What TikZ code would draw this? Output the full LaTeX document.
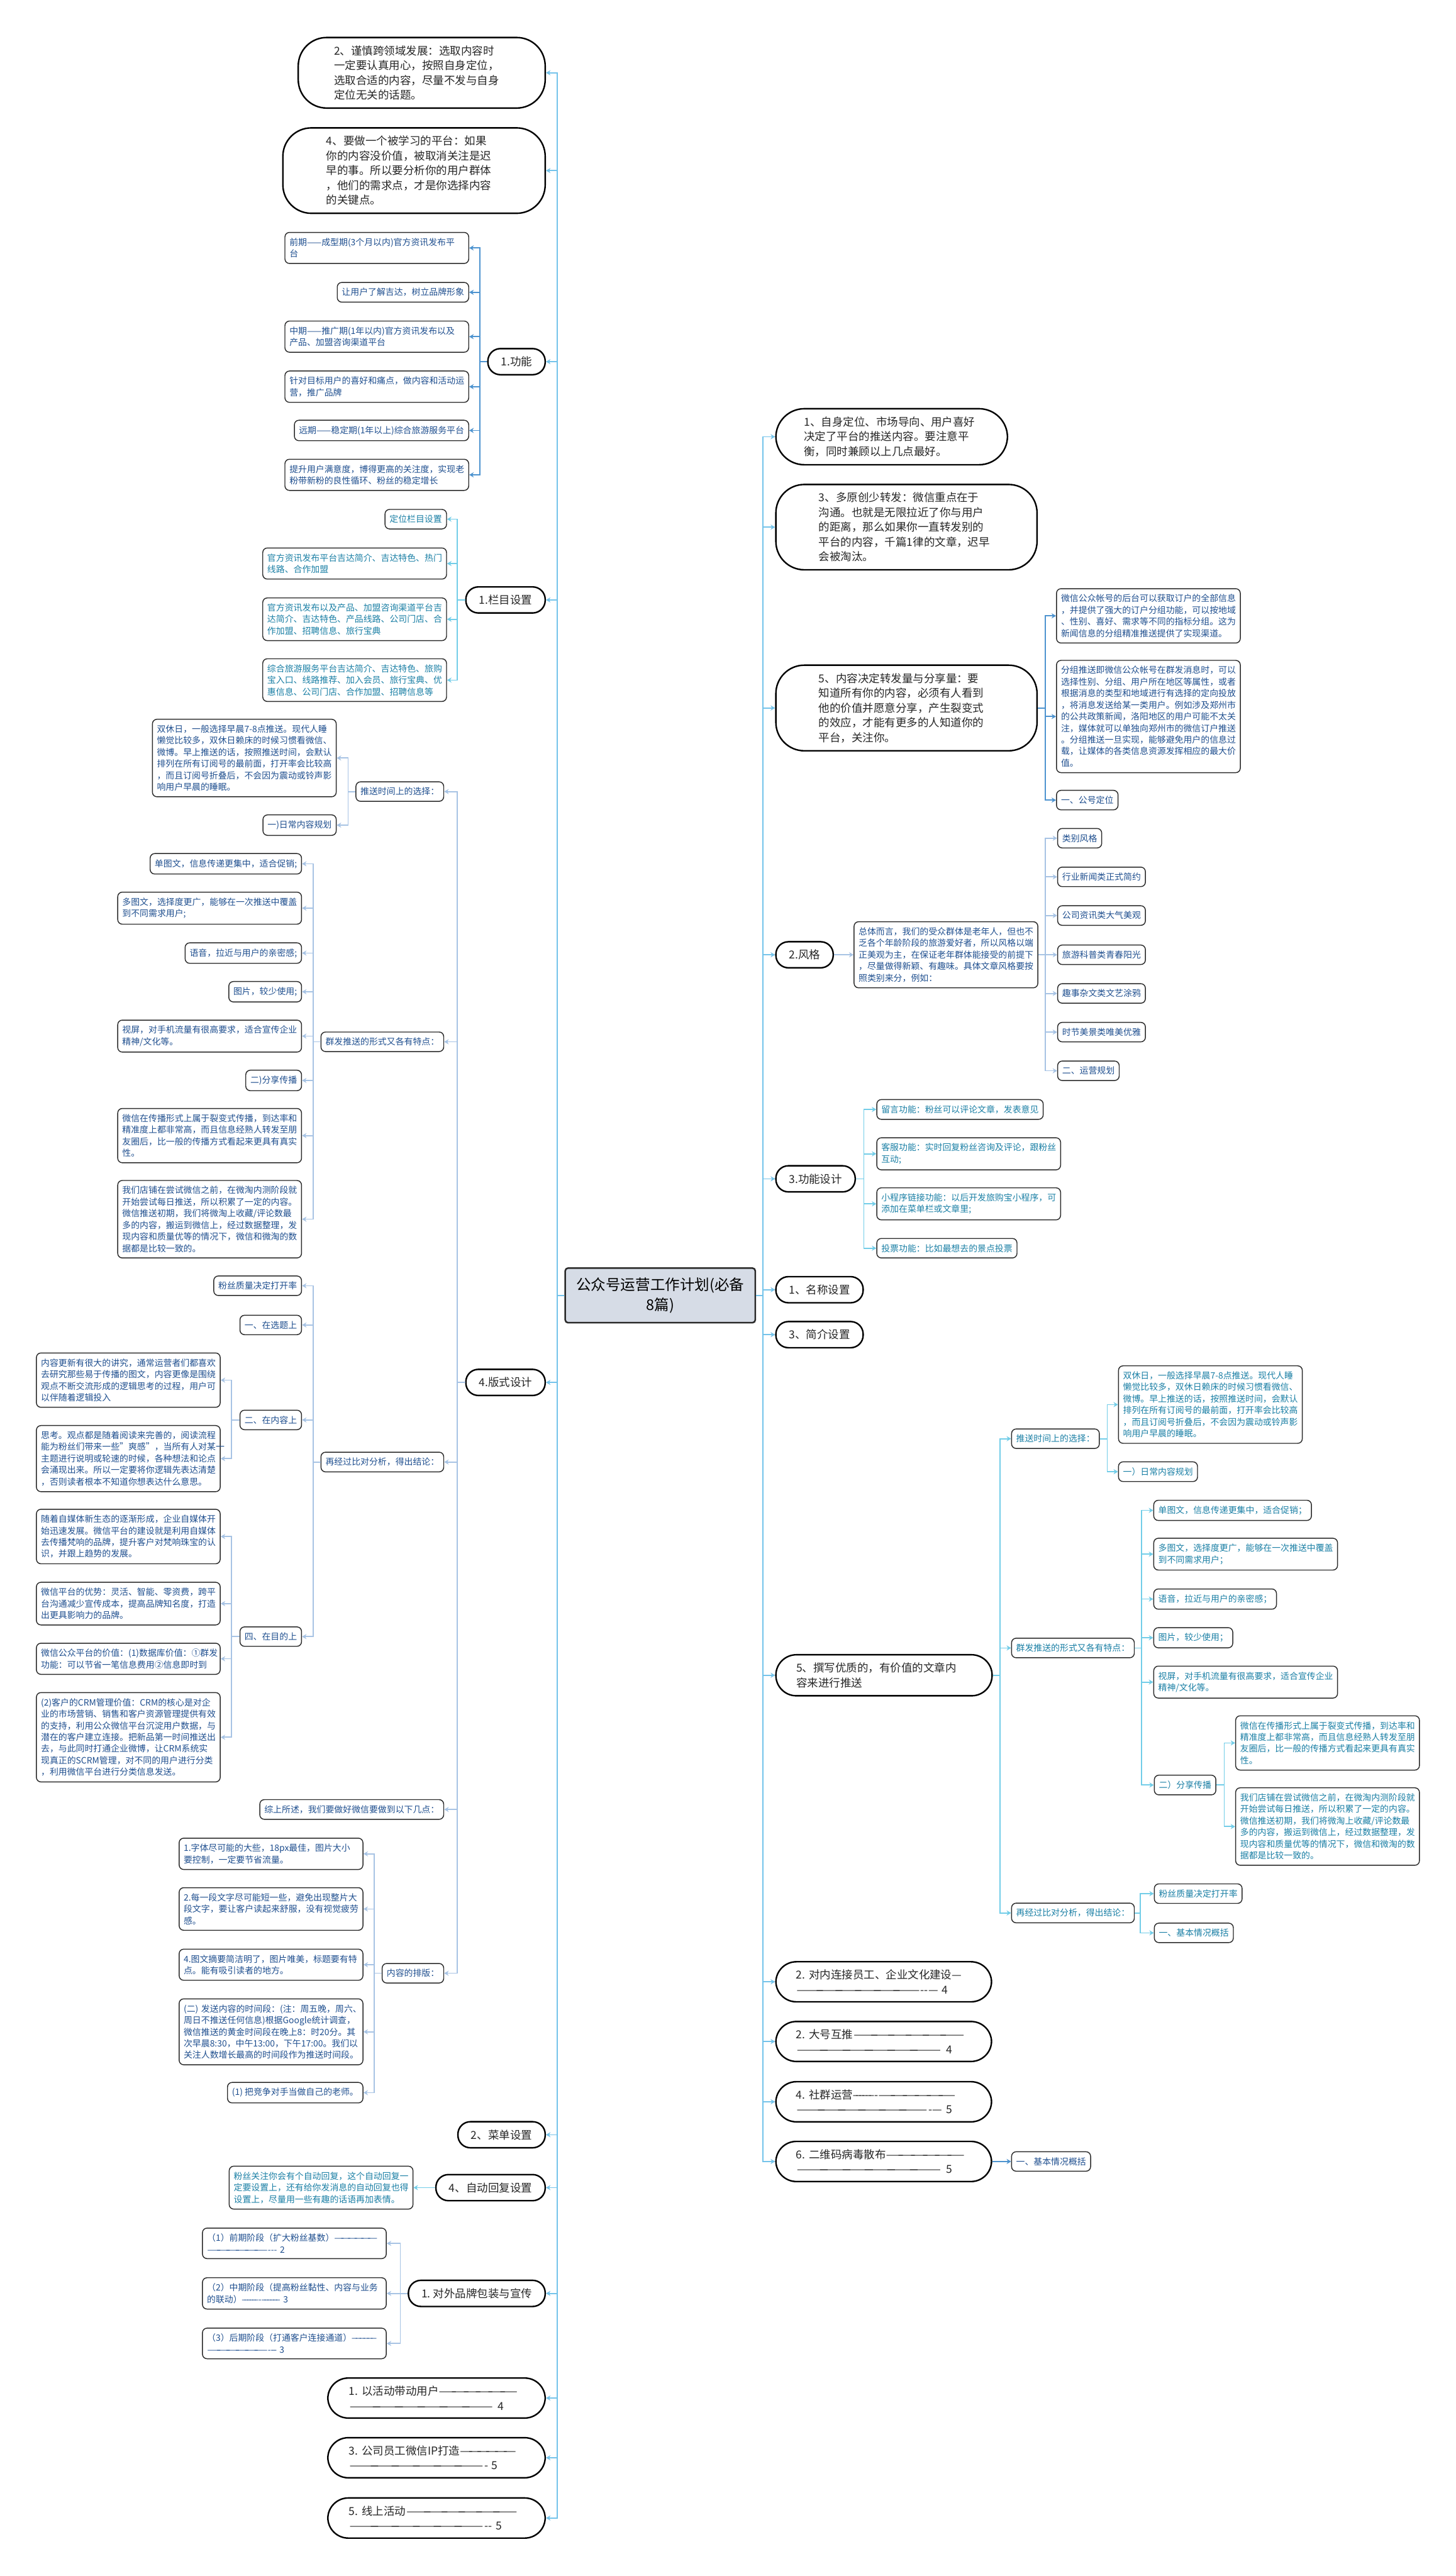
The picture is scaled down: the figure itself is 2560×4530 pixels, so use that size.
\documentclass[tikz,border=0pt]{standalone}
\usepackage{fontspec}
\setmainfont{Noto Sans CJK SC}
\usetikzlibrary{arrows.meta}
\definecolor{trunkblue}{HTML}{74C3EA}
\definecolor{midblue}{HTML}{4D93CF}
\definecolor{cyanline}{HTML}{72CDE8}
\definecolor{paleline}{HTML}{A7C3E4}
\definecolor{navytext}{HTML}{1F4F8F}
\definecolor{tealtext}{HTML}{1A7FA5}
\definecolor{rootfill}{HTML}{D6DCE6}
\definecolor{boxline}{HTML}{2B2B2B}
\newcommand{\leaffont}{\fontsize{4.37pt}{5.8pt}\selectfont}
\newcommand{\topicfont}{\fontsize{5.5pt}{7.4pt}\selectfont}
\newcommand{\rootfont}{\fontsize{7.4pt}{10.1pt}\selectfont}
\newcommand{\dashrun}[1]{\resizebox{#1}{\height}{—\kern-.3em—\kern-.3em—\kern-.3em—\kern-.3em—\kern-.3em—}}

\begin{document}
\begin{tikzpicture}[x=0.01cm,y=-0.01cm,>={Stealth[length=0.08cm,width=0.09cm]},
	rootbox/.style={draw=boxline,line width=0.8pt,fill=rootfill,rounded corners=0.05cm,font=\rootfont,align=center,minimum width=3.34cm,minimum height=0.96cm,inner sep=0pt},
	topic/.style={draw=black,line width=0.75pt,fill=white,rounded corners=0.22cm,font=\topicfont,text=black!85,inner xsep=0.23cm,inner ysep=0.14cm},
	bubble/.style={topic,text width=3.08cm,align=left,rounded corners=0.5cm},
	pill/.style={bubble,rounded corners=0.36cm},
	leaf/.style={draw=boxline,line width=0.45pt,fill=white,rounded corners=0.08cm,font=\leaffont,inner xsep=0.08cm,inner ysep=0.1cm,align=left},
	wideleaf/.style={leaf,text width=3.07cm},
	link/.style={->,line width=0.55pt}]
	\fill[white] (0,0) rectangle (2560,4530);
	\useasboundingbox (0,0) rectangle (2560,4530);

	\node[rootbox] (root) at (1161,2278) {公众号运营工作计划(必备\\8篇)};

	% left side
	\node[bubble,anchor=east,inner xsep=0.63cm] (b1) at (960,128) {2、谨慎跨领域发展：选取内容时\\一定要认真用心，按照自身定位，\\选取合适的内容，尽量不发与自身\\定位无关的话题。};
	\node[bubble,anchor=east,inner xsep=0.765cm] (b2) at (960,300) {4、要做一个被学习的平台：如果\\你的内容没价值，被取消关注是迟\\早的事。所以要分析你的用户群体\\，他们的需求点，才是你选择内容\\的关键点。};
	\node[topic,anchor=east] (gong) at (960,636) {1.功能};
	\node[topic,anchor=east] (lanmu) at (960,1055) {1.栏目设置};
	\node[topic,anchor=east] (banshi) at (960,2431) {4.版式设计};
	\node[topic,anchor=east] (caidan) at (960,3754) {2、菜单设置};
	\node[topic,anchor=east] (huifu) at (960,3847) {4、自动回复设置};
	\node[topic,anchor=east] (duiwai) at (960,4033) {1.~对外品牌包装与宣传};
	\node[pill,anchor=east,inner xsep=0.37cm] (huodong) at (960,4217) {1.~以活动带动用户\dashrun{1.40cm}\\\dashrun{2.55cm}~4};
	\node[pill,anchor=east,inner xsep=0.37cm] (yuangong) at (960,4322) {3.~公司员工微信IP打造\dashrun{0.99cm}\\\dashrun{2.38cm}-~5};
	\node[pill,anchor=east,inner xsep=0.37cm] (xianshang) at (960,4428) {5.~线上活动\dashrun{1.98cm}\\\dashrun{2.38cm}-{}-~5};

	\begin{scope}[every node/.append style={text=navytext,anchor=east}]
	\node[wideleaf] (f1) at (825,436) {前期——成型期(3个月以内)官方资讯发布平\\台};
	\node[leaf] (f2) at (825,514) {让用户了解吉达，树立品牌形象};
	\node[wideleaf] (f3) at (825,592) {中期——推广期(1年以内)官方资讯发布以及\\产品、加盟咨询渠道平台};
	\node[wideleaf] (f4) at (825,680) {针对目标用户的喜好和痛点，做内容和活动运\\营，推广品牌};
	\node[leaf] (f5) at (825,757) {远期——稳定期(1年以上)综合旅游服务平台};
	\node[wideleaf] (f6) at (825,835) {提升用户满意度，博得更高的关注度，实现老\\粉带新粉的良性循环、粉丝的稳定增长};
	\end{scope}

	\begin{scope}[every node/.append style={text=tealtext,anchor=east}]
	\node[leaf] (l1) at (786,913) {定位栏目设置};
	\node[wideleaf] (l2) at (786,991) {官方资讯发布平台吉达简介、吉达特色、热门\\线路、合作加盟};
	\node[wideleaf] (l3) at (786,1089) {官方资讯发布以及产品、加盟咨询渠道平台吉\\达简介、吉达特色、产品线路、公司门店、合\\作加盟、招聘信息、旅行宝典};
	\node[wideleaf] (l4) at (786,1196) {综合旅游服务平台吉达简介、吉达特色、旅购\\宝入口、线路推荐、加入会员、旅行宝典、优\\惠信息、公司门店、合作加盟、招聘信息等};
	\node[wideleaf] (h1) at (727,3847) {粉丝关注你会有个自动回复，这个自动回复一\\定要设置上，还有给你发消息的自动回复也得\\设置上，尽量用一些有趣的话语再加表情。};
	\end{scope}

	\begin{scope}[every node/.append style={text=navytext,anchor=east}]
	\node[leaf] (s1) at (781,1392) {推送时间上的选择：};
	\node[wideleaf] (s1a) at (592,1333) {双休日，一般选择早晨7-8点推送。现代人睡\\懒觉比较多，双休日赖床的时候习惯看微信、\\微博。早上推送的话，按照推送时间，会默认\\排列在所有订阅号的最前面，打开率会比较高\\，而且订阅号折叠后，不会因为震动或铃声影\\响用户早晨的睡眠。};
	\node[leaf] (s1b) at (592,1451) {一)日常内容规划};
	\node[leaf] (s2) at (781,1832) {群发推送的形式又各有特点：};
	\node[leaf] (s2a) at (531,1519) {单图文，信息传递更集中，适合促销;};
	\node[wideleaf] (s2b) at (531,1597) {多图文，选择度更广，能够在一次推送中覆盖\\到不同需求用户;};
	\node[leaf] (s2c) at (531,1676) {语音，拉近与用户的亲密感;};
	\node[leaf] (s2d) at (531,1744) {图片，较少使用;};
	\node[wideleaf] (s2e) at (531,1822) {视屏，对手机流量有很高要求，适合宣传企业\\精神/文化等。};
	\node[leaf] (s2f) at (531,1900) {二)分享传播};
	\node[wideleaf] (s2g) at (531,1997) {微信在传播形式上属于裂变式传播，到达率和\\精准度上都非常高，而且信息经熟人转发至朋\\友圈后，比一般的传播方式看起来更具有真实\\性。};
	\node[wideleaf] (s2h) at (531,2144) {我们店铺在尝试微信之前，在微淘内测阶段就\\开始尝试每日推送，所以积累了一定的内容。\\微信推送初期，我们将微淘上收藏/评论数最\\多的内容，搬运到微信上，经过数据整理，发\\现内容和质量优等的情况下，微信和微淘的数\\据都是比较一致的。};
	\node[leaf] (s3) at (781,2571) {再经过比对分析，得出结论：};
	\node[leaf] (s3a) at (531,2261) {粉丝质量决定打开率};
	\node[leaf] (s3b) at (531,2330) {一、在选题上};
	\node[leaf] (s3c) at (531,2497) {二、在内容上};
	\node[wideleaf] (s3c1) at (388,2427) {内容更新有很大的讲究，通常运营者们都喜欢\\去研究那些易于传播的图文，内容更像是围绕\\观点不断交流形成的逻辑思考的过程，用户可\\以伴随着逻辑投入};
	\node[wideleaf] (s3c2) at (388,2565) {思考。观点都是随着阅读来完善的，阅读流程\\能为粉丝们带来一些"爽感"，当所有人对某一\\主题进行说明或轮速的时候，各种想法和论点\\会涌现出来。所以一定要将你逻辑先表达清楚\\，否则读者根本不知道你想表达什么意思。};
	\node[leaf] (s3d) at (531,2878) {四、在目的上};
	\node[wideleaf] (s3d1) at (388,2702) {随着自媒体新生态的逐渐形成，企业自媒体开\\始迅速发展。微信平台的建设就是利用自媒体\\去传播梵响的品牌，提升客户对梵响珠宝的认\\识，并跟上趋势的发展。};
	\node[wideleaf] (s3d2) at (388,2820) {微信平台的优势：灵活、智能、零资费，跨平\\台沟通减少宣传成本，提高品牌知名度，打造\\出更具影响力的品牌。};
	\node[wideleaf] (s3d3) at (388,2917) {微信公众平台的价值：(1)数据库价值：①群发\\功能：可以节省一笔信息费用②信息即时到};
	\node[wideleaf] (s3d4) at (388,3055) {(2)客户的CRM管理价值：CRM的核心是对企\\业的市场营销、销售和客户资源管理提供有效\\的支持，利用公众微信平台沉淀用户数据，与\\潜在的客户建立连接。把新品第一时间推送出\\去，与此同时打通企业微博，让CRM系统实\\现真正的SCRM管理，对不同的用户进行分类\\，利用微信平台进行分类信息发送。};
	\node[leaf] (s4) at (781,3182) {综上所述，我们要做好微信要做到以下几点：};
	\node[leaf] (s5) at (781,3470) {内容的排版：};
	\node[wideleaf] (s5a) at (639,3260) {1.字体尽可能的大些，18px最佳，图片大小\\要控制，一定要节省流量。};
	\node[wideleaf] (s5b) at (639,3357) {2.每一段文字尽可能短一些，避免出现整片大\\段文字，要让客户读起来舒服，没有视觉疲劳\\感。};
	\node[wideleaf] (s5c) at (639,3455) {4.图文摘要简洁明了，图片唯美，标题要有特\\点。能有吸引读者的地方。};
	\node[wideleaf] (s5d) at (639,3573) {(二)~发送内容的时间段：(注：周五晚，周六、\\周日不推送任何信息)根据Google统计调查，\\微信推送的黄金时间段在晚上8：时20分。其\\次早晨8:30，中午13:00，下午17:00。我们以\\关注人数增长最高的时间段作为推送时间段。};
	\node[leaf] (s5e) at (639,3680) {(1)~把竞争对手当做自己的老师。};
	\node[wideleaf] (d1) at (680,3945) {（1）前期阶段（扩大粉丝基数）\dashrun{0.76cm}\\\dashrun{1.07cm}-{}-{}-~2};
	\node[wideleaf] (d2) at (680,4033) {（2）中期阶段（提高粉丝黏性、内容与业务\\的联动）\dashrun{0.29cm}-\dashrun{0.33cm}~3};
	\node[wideleaf] (d3) at (680,4121) {（3）后期阶段（打通客户连接通道）\dashrun{0.44cm}\\\dashrun{1.07cm}-\dashrun{0.1cm}~3};
	\end{scope}

	% right side
	\node[bubble,anchor=west,inner xsep=0.495cm] (r1) at (1363,768) {1、自身定位、市场导向、用户喜好\\决定了平台的推送内容。要注意平\\衡，同时兼顾以上几点最好。};
	\node[bubble,anchor=west,inner xsep=0.755cm] (r2) at (1363,927) {3、多原创少转发：微信重点在于\\沟通。也就是无限拉近了你与用户\\的距离，那么如果你一直转发别的\\平台的内容，千篇1律的文章，迟早\\会被淘汰。};
	\node[bubble,anchor=west,inner xsep=0.755cm] (r3) at (1363,1245) {5、内容决定转发量与分享量：要\\知道所有你的内容，必须有人看到\\他的价值并愿意分享，产生裂变式\\的效应，才能有更多的人知道你的\\平台，关注你。};
	\node[topic,anchor=west] (r4) at (1363,1679) {2.风格};
	\node[topic,anchor=west] (r5) at (1363,2073) {3.功能设计};
	\node[topic,anchor=west] (r6) at (1363,2268) {1、名称设置};
	\node[topic,anchor=west] (r7) at (1363,2347) {3、简介设置};
	\node[pill,anchor=west,inner xsep=0.36cm] (r8) at (1363,2946) {5、撰写优质的，有价值的文章内\\容来进行推送};
	\node[pill,anchor=west,inner xsep=0.355cm] (r9) at (1363,3485) {2.~对内连接员工、企业文化建设—\\\dashrun{2.19cm}-{}-—~4};
	\node[pill,anchor=west,inner xsep=0.355cm] (r10) at (1363,3590) {2.~大号互推\dashrun{1.97cm}\\\dashrun{2.57cm}~4};
	\node[pill,anchor=west,inner xsep=0.355cm] (r11) at (1363,3696) {4.~社群运营\dashrun{0.38cm}-\dashrun{1.36cm}\\\dashrun{2.33cm}-—~5};
	\node[pill,anchor=west,inner xsep=0.355cm] (r12) at (1363,3801) {6.~二维码病毒散布\dashrun{1.39cm}\\\dashrun{2.57cm}~5};

	\begin{scope}[every node/.append style={text=navytext,anchor=west}]
	\node[wideleaf] (c1) at (1857,1083) {微信公众帐号的后台可以获取订户的全部信息\\，并提供了强大的订户分组功能，可以按地域\\、性别、喜好、需求等不同的指标分组。这为\\新闻信息的分组精准推送提供了实现渠道。};
	\node[wideleaf] (c2) at (1857,1260) {分组推送即微信公众帐号在群发消息时，可以\\选择性别、分组、用户所在地区等属性，或者\\根据消息的类型和地域进行有选择的定向投放\\，将消息发送给某一类用户。例如涉及郑州市\\的公共政策新闻，洛阳地区的用户可能不太关\\注，媒体就可以单独向郑州市的微信订户推送\\。分组推送一旦实现，能够避免用户的信息过\\载，让媒体的各类信息资源发挥相应的最大价\\值。};
	\node[leaf] (c3) at (1857,1407) {一、公号定位};
	\node[wideleaf] (k0) at (1501,1679) {总体而言，我们的受众群体是老年人，但也不\\乏各个年龄阶段的旅游爱好者，所以风格以端\\正美观为主，在保证老年群体能接受的前提下\\，尽量做得新颖、有趣味。具体文章风格要按\\照类别来分，例如：};
	\node[leaf] (k1) at (1859,1474) {类别风格};
	\node[leaf] (k2) at (1859,1542) {行业新闻类正式简约};
	\node[leaf] (k3) at (1859,1610) {公司资讯类大气美观};
	\node[leaf] (k4) at (1859,1679) {旅游科普类青春阳光};
	\node[leaf] (k5) at (1859,1747) {趣事杂文类文艺涂鸦};
	\node[leaf] (k6) at (1859,1815) {时节美景类唯美优雅};
	\node[leaf] (k7) at (1859,1883) {二、运营规划};
	\node[leaf] (q1) at (1778,3801) {一、基本情况概括};
	\end{scope}

	\begin{scope}[every node/.append style={text=tealtext,anchor=west}]
	\node[leaf] (n1) at (1541,1951) {留言功能：粉丝可以评论文章，发表意见};
	\node[wideleaf] (n2) at (1541,2029) {客服功能：实时回复粉丝咨询及评论，跟粉丝\\互动;};
	\node[wideleaf] (n3) at (1541,2117) {小程序链接功能：以后开发旅购宝小程序，可\\添加在菜单栏或文章里;};
	\node[leaf] (n4) at (1541,2195) {投票功能：比如最想去的景点投票};
	\node[leaf] (p1) at (1778,2530) {推送时间上的选择：};
	\node[wideleaf] (p1a) at (1966,2470) {双休日，一般选择早晨7-8点推送。现代人睡\\懒觉比较多，双休日赖床的时候习惯看微信、\\微博。早上推送的话，按照推送时间，会默认\\排列在所有订阅号的最前面，打开率会比较高\\，而且订阅号折叠后，不会因为震动或铃声影\\响用户早晨的睡眠。};
	\node[leaf] (p1b) at (1966,2588) {一）日常内容规划};
	\node[leaf] (p2) at (1778,2898) {群发推送的形式又各有特点：};
	\node[leaf] (p2a) at (2028,2656) {单图文，信息传递更集中，适合促销；};
	\node[wideleaf] (p2b) at (2028,2733) {多图文，选择度更广，能够在一次推送中覆盖\\到不同需求用户；};
	\node[leaf] (p2c) at (2028,2812) {语音，拉近与用户的亲密感；};
	\node[leaf] (p2d) at (2028,2880) {图片，较少使用；};
	\node[wideleaf] (p2e) at (2028,2958) {视屏，对手机流量有很高要求，适合宣传企业\\精神/文化等。};
	\node[leaf] (p2f) at (2029,3139) {二）分享传播};
	\node[wideleaf] (p2f1) at (2172,3065) {微信在传播形式上属于裂变式传播，到达率和\\精准度上都非常高，而且信息经熟人转发至朋\\友圈后，比一般的传播方式看起来更具有真实\\性。};
	\node[wideleaf] (p2f2) at (2172,3212) {我们店铺在尝试微信之前，在微淘内测阶段就\\开始尝试每日推送，所以积累了一定的内容。\\微信推送初期，我们将微淘上收藏/评论数最\\多的内容，搬运到微信上，经过数据整理，发\\现内容和质量优等的情况下，微信和微淘的数\\据都是比较一致的。};
	\node[leaf] (p3) at (1778,3364) {再经过比对分析，得出结论：};
	\node[leaf] (p3a) at (2029,3330) {粉丝质量决定打开率};
	\node[leaf] (p3b) at (2029,3399) {一、基本情况概括};
	\end{scope}

	% connectors
	\foreach \n in {b1,b2,gong,lanmu,banshi,caidan,huifu,duiwai,huodong,yuangong,xianshang}
		\draw[link,trunkblue] (root.west) -- ++(-13,0) |- (\n.east);
	\foreach \n in {r1,r2,r3,r4,r5,r6,r7,r8,r9,r10,r11,r12}
		\draw[link,trunkblue] (root.east) -- ++(12,0) |- (\n.west);
	\foreach \n in {f1,f2,f3,f4,f5,f6}
		\draw[link,midblue] (gong.west) -- ++(-13,0) |- (\n.east);
	\foreach \n in {l1,l2,l3,l4}
		\draw[link,cyanline] (lanmu.west) -- ++(-14,0) |- (\n.east);
	\foreach \n in {s1,s2,s3,s4,s5}
		\draw[link,paleline] (banshi.west) -- ++(-14,0) |- (\n.east);
	\foreach \n in {s1a,s1b}
		\draw[link,paleline] (s1.west) -- ++(-13,0) |- (\n.east);
	\foreach \n in {s2a,s2b,s2c,s2d,s2e,s2f,s2g,s2h}
		\draw[link,paleline] (s2.west) -- ++(-13,0) |- (\n.east);
	\foreach \n in {s3a,s3b,s3c,s3d}
		\draw[link,paleline] (s3.west) -- ++(-13,0) |- (\n.east);
	\foreach \n in {s3c1,s3c2}
		\draw[link,paleline] (s3c.west) -- ++(-14,0) |- (\n.east);
	\foreach \n in {s3d1,s3d2,s3d3,s3d4}
		\draw[link,paleline] (s3d.west) -- ++(-14,0) |- (\n.east);
	\foreach \n in {s5a,s5b,s5c,s5d,s5e}
		\draw[link,paleline] (s5.west) -- ++(-13,0) |- (\n.east);
	\draw[link,cyanline] (huifu.west) -- (h1.east);
	\foreach \n in {d1,d2,d3}
		\draw[link,paleline] (duiwai.west) -- ++(-13,0) |- (\n.east);
	\foreach \n in {c1,c2,c3}
		\draw[link,midblue] (r3.east) -- ++(13,0) |- (\n.west);
	\draw[link,paleline] (r4.east) -- (k0.west);
	\foreach \n in {k1,k2,k3,k4,k5,k6,k7}
		\draw[link,paleline] (k0.east) -- ++(12,0) |- (\n.west);
	\foreach \n in {n1,n2,n3,n4}
		\draw[link,cyanline] (r5.east) -- ++(14,0) |- (\n.west);
	\foreach \n in {p1,p2,p3}
		\draw[link,cyanline] (r8.east) -- ++(13,0) |- (\n.west);
	\foreach \n in {p1a,p1b}
		\draw[link,cyanline] (p1.east) -- ++(13,0) |- (\n.west);
	\foreach \n in {p2a,p2b,p2c,p2d,p2e,p2f}
		\draw[link,cyanline] (p2.east) -- ++(12,0) |- (\n.west);
	\foreach \n in {p2f1,p2f2}
		\draw[link,cyanline] (p2f.east) -- ++(14,0) |- (\n.west);
	\foreach \n in {p3a,p3b}
		\draw[link,cyanline] (p3.east) -- ++(10,0) |- (\n.west);
	\draw[link,midblue] (r12.east) -- (q1.west);
\end{tikzpicture}
\end{document}
